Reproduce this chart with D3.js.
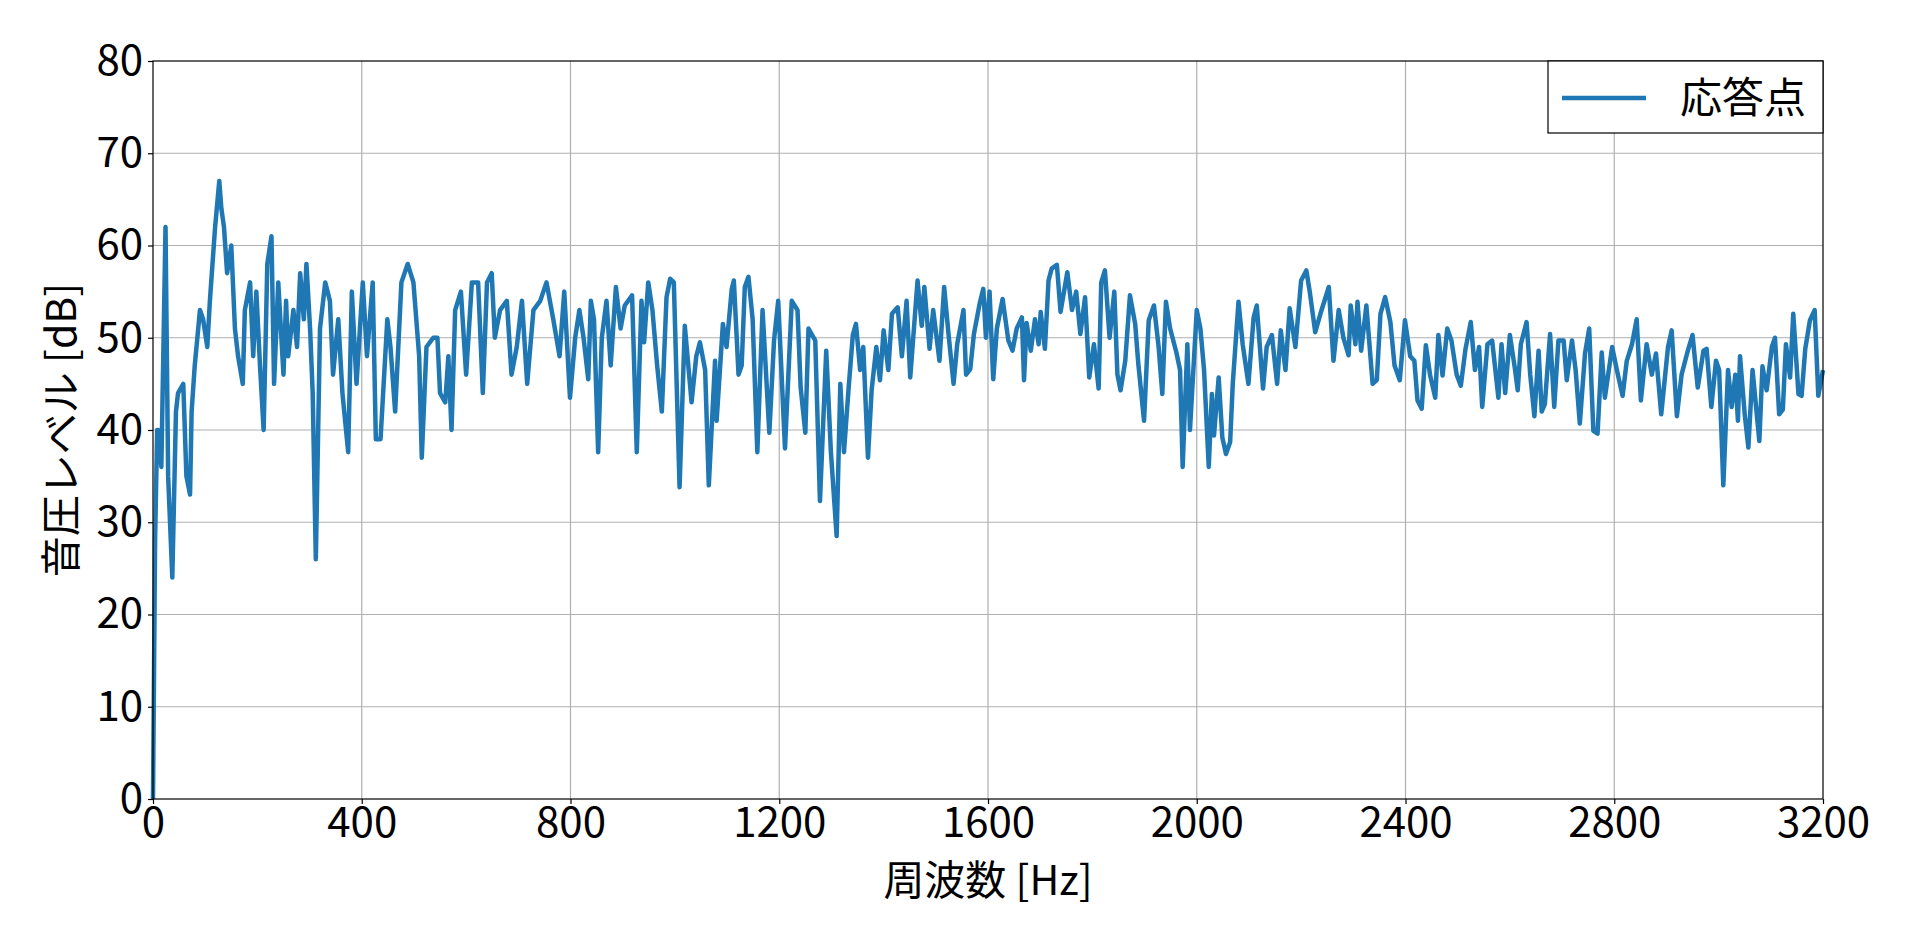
<!DOCTYPE html>
<html>
<head>
<meta charset="utf-8">
<script src="https://cdn.jsdelivr.net/npm/d3@7"></script>
<style>
  body { margin: 0; background: #fff; }
  text { font-family: "Noto Sans CJK JP", "DejaVu Sans", sans-serif; }
</style>
</head>
<body>
<svg id="chart" width="1920" height="940"></svg>
<script>
// 周波数 [Hz]
const freq = [0,4,8,10,16,24,29,37,44,48,58,64,71,74,80,90,96,104,109,119,127,131,136,142,150,157,163,172,176,186,192,198,205,212,219,227,232,240,250,255,259,269,276,282,289,294,301,306,312,320,330,339,345,355,363,374,381,390,402,410,421,427,436,449,455,464,476,488,499,510,515,524,537,545,550,560,566,572,579,590,600,611,623,632,640,649,655,665,678,687,697,707,717,729,742,754,767,779,788,799,
809,817,825,834,839,845,853,860,869,877,887,896,904,918,927,936,941,949,957,966,975,984,991,998,1009,1019,1032,1041,1048,1058,1065,1077,1080,1092,1099,1109,1113,1122,1128,1134,1141,1149,1158,1168,1181,1190,1198,1211,1224,1235,1241,1250,1256,1269,1278,1290,1299,1310,1317,1324,1333,1341,1347,1355,1361,1370,1377,1386,1393,1400,1409,1416,1427,1435,1444,1451,1465,1473,1478,1488,1495,1507,1516,1524,1534,1541,1553,1558,1566,1573,1584,1591,1596,1603,
1610,1617,1628,1639,1647,1655,1665,1669,1674,1682,1690,1697,1701,1709,1716,1722,1732,1739,1752,1761,1769,1777,1786,1794,1803,1812,1817,1824,1833,1842,1848,1854,1863,1872,1882,1888,1899,1908,1918,1927,1934,1941,1949,1961,1968,1973,1982,1987,2000,2007,2014,2023,2029,2033,2042,2049,2056,2064,2069,2080,2088,2099,2109,2115,2127,2134,2144,2154,2161,2170,2178,2189,2200,2210,2217,2227,2237,2253,2262,2272,2281,2291,2295,2304,2308,2315,2325,2337,2345,2352,2361,2371,2379,2389,
2399,2409,2417,2423,2431,2439,2447,2457,2463,2471,2480,2488,2498,2506,2515,2525,2533,2541,2547,2557,2566,2578,2584,2591,2600,2610,2615,2621,2632,2639,2647,2655,2661,2667,2677,2685,2693,2703,2709,2719,2726,2734,2744,2752,2760,2768,2776,2782,2796,2805,2816,2824,2834,2843,2851,2862,2872,2880,2890,2903,2910,2920,2929,2941,2950,2960,2971,2977,2986,2995,3001,3009,3018,3025,3032,3037,3041,3050,3057,3065,3078,3084,3092,3102,3108,3116,3123,3129,3137,3143,3153,3159,3166,3175,3184,3191,3200];

// 音圧レベル [dB]
const level = [0,28,40,40,36,62,35,24,42,44,45,35,33,42,47,53,52,49,54,62,67,64,62,57,60,51,48,45,53,56,48,55,47,40,58,61,45,56,46,54,48,53,49,57,52,58,51,44,26,51,56,54,46,52,44,37.6,55,45,56,48,56,39,39,52,49,42,56,58,56,48,37,49,50,50,44,43,48,40,53,55,46,56,56,44,56,57,50,53,54,46,49,54,45,53,54,56,52,48,55,43.5,
50,53,50,45.5,54,52,37.6,50,54,47,55.5,51,53.5,54.6,37.6,54,49.5,56,53,47,42,54.4,56.4,56,33.8,51.3,43,48,49.5,46.5,34,47.5,41,51.5,49,55.3,56.2,46,47,55.5,56.6,52,37.6,53,39.7,49.7,54,38,54,53,44.6,39.7,51,49.7,32.3,48.6,37.6,28.5,45,37.6,44.6,50.3,51.5,46.5,49,37,44.3,49,45.4,50.8,46.5,52.6,53.3,48,54,45.7,56.2,51.3,55.5,48.8,53,47.5,55.5,50.6,45,49.3,53,46,46.6,50.4,53.7,55.3,50,55,
45.5,51,54.2,49.7,48.6,51,52.2,45.4,51.6,48.6,52,49.3,52.8,48.8,56.2,57.5,57.9,52.8,57.1,53,55,50.4,54.4,45.7,49.3,44.5,56,57.3,50,55,46,44.3,47.5,54.6,51.5,47.2,41,51.9,53.5,49,43.9,53.9,51,48.4,46.5,36,49.3,40,53,51,46.5,36,43.9,39.4,45.7,39.2,37.4,38.7,45,53.9,49.3,45,52.2,53.5,44.5,49,50.3,45,50.8,46.5,53.2,49,56.2,57.3,54.8,50.6,52.6,55.5,47.5,53,50,48.1,53.5,49.3,53.9,48.6,53.5,45,45.4,52.6,54.4,51.7,47,45.4,
51.9,48,47.5,43.2,42.3,49.2,46,43.5,50.3,45.9,51,49.7,46,44.8,48.8,51.7,46.5,49,42.5,49.3,49.7,43.5,49.3,44,50.3,46.5,44.3,49.3,51.7,46,41.5,48.6,42,42.8,50.4,42.5,49.7,49.7,45.4,49.7,46.5,40.7,48.3,51,39.9,39.6,48.4,43.5,49,46.5,43.7,47.5,49.3,52,43.2,49.3,46,48.3,41.7,49,50.8,41.5,46,48.6,50.3,44.6,48.6,48.8,42.5,47.5,46.5,34,46.5,42.5,46,41,48,41.7,38.1,46.5,38.8,46.9,44.3,49,50,41.7,42.2,49.3,45.7,52.6,43.9,43.7,48.8,51.9,53,43.7,46.5];

const xTicks = [0, 400, 800, 1200, 1600, 2000, 2400, 2800, 3200];
const yTicks = [0, 10, 20, 30, 40, 50, 60, 70, 80];

const margin = { left: 153, right: 97, top: 61, bottom: 141 };
const width = 1920 - margin.left - margin.right;
const height = 940 - margin.top - margin.bottom;

const svg = d3.select("#chart");
const g = svg.append("g").attr("transform", `translate(${margin.left},${margin.top})`);

const x = d3.scaleLinear().domain([0, 3200]).range([0, width]);
const y = d3.scaleLinear().domain([0, 80]).range([height, 0]);

// グリッド
g.append("g").selectAll("line").data(xTicks.slice(1, -1)).join("line")
  .attr("x1", d => x(d)).attr("x2", d => x(d)).attr("y1", 0).attr("y2", height)
  .attr("stroke", "#b0b0b0").attr("stroke-width", 1.2);
g.append("g").selectAll("line").data(yTicks.slice(1, -1)).join("line")
  .attr("y1", d => y(d)).attr("y2", d => y(d)).attr("x1", 0).attr("x2", width)
  .attr("stroke", "#b0b0b0").attr("stroke-width", 1.2);

// 線
const line = d3.line().x((d, i) => x(freq[i])).y(d => y(d));
g.append("path").datum(level)
  .attr("fill", "none").attr("stroke", "#1f77b4").attr("stroke-width", 4.5)
  .attr("stroke-linejoin", "round").attr("d", line);

// 枠
g.append("rect").attr("width", width).attr("height", height)
  .attr("fill", "none").attr("stroke", "#000").attr("stroke-width", 1.2);

// 軸
const xAxis = g.append("g").attr("transform", `translate(0,${height})`)
  .call(d3.axisBottom(x).tickValues(xTicks).tickSize(5).tickPadding(3).tickFormat(d3.format("d")));
const yAxis = g.append("g")
  .call(d3.axisLeft(y).tickValues(yTicks).tickSize(5).tickPadding(5).tickFormat(d3.format("d")));
[xAxis, yAxis].forEach(a => {
  a.select(".domain").remove();
  a.selectAll("text").attr("font-size", 42).attr("fill", "#000");
  a.selectAll("line").attr("stroke", "#000").attr("stroke-width", 1.2);
});

// 軸ラベル
svg.append("text").attr("x", margin.left + width / 2).attr("y", 895)
  .attr("text-anchor", "middle").attr("font-size", 41).text("周波数 [Hz]");
svg.append("text").attr("transform", `translate(76,${margin.top + height / 2}) rotate(-90)`)
  .attr("text-anchor", "middle").attr("font-size", 41).text("音圧レベル [dB]");

// 凡例
const lg = svg.append("g").attr("transform", `translate(${1920 - margin.right - 275},${margin.top})`);
lg.append("rect").attr("width", 275).attr("height", 72)
  .attr("fill", "#fff").attr("stroke", "#000").attr("stroke-width", 1.2);
lg.append("line").attr("x1", 14).attr("x2", 98).attr("y1", 37).attr("y2", 37)
  .attr("stroke", "#1f77b4").attr("stroke-width", 4.5);
lg.append("text").attr("x", 132).attr("y", 52).attr("font-size", 42).text("応答点");
</script>
</body>
</html>
